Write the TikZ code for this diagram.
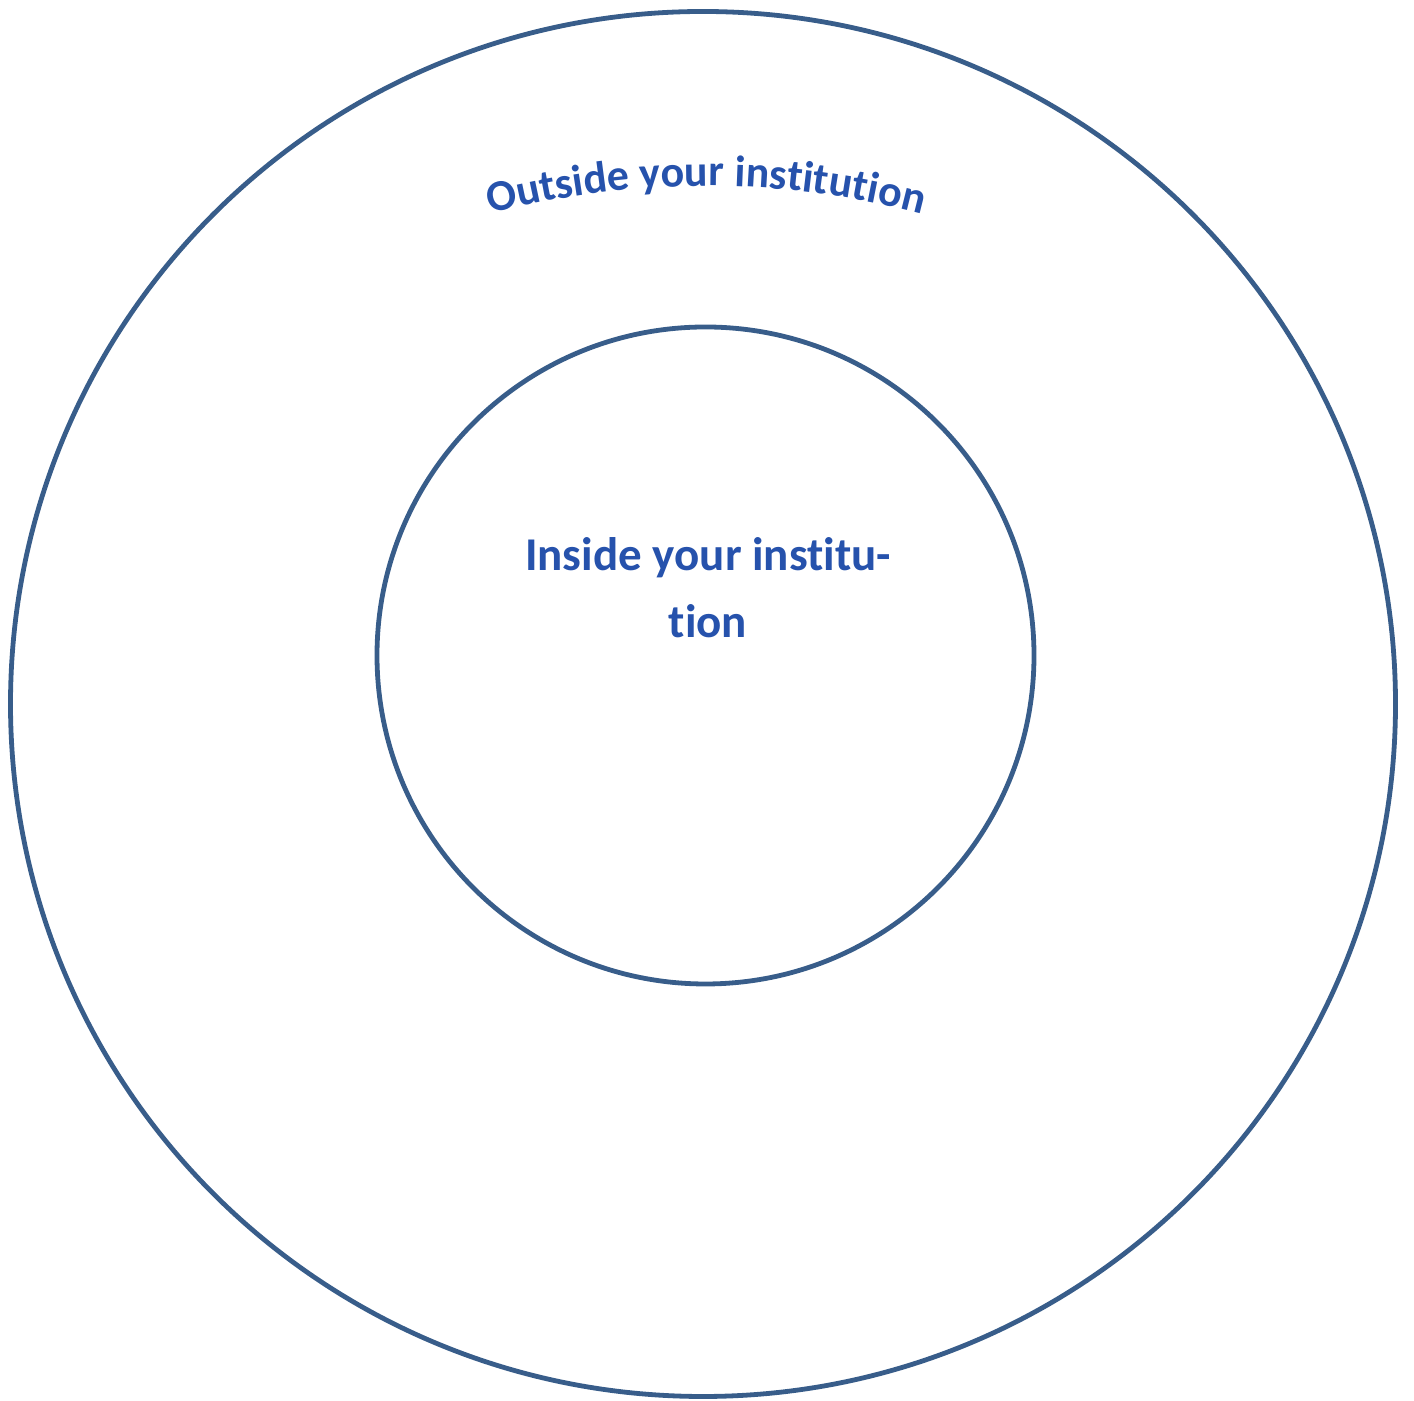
\documentclass[tikz,border=0pt]{standalone}
\usepackage{fontspec}
\setmainfont{Carlito}[Ligatures=NoCommon]
\usepackage{tikz}
\usetikzlibrary{positioning, decorations.text}
\definecolor{ringblue}{RGB}{56,93,138}
\definecolor{labelblue}{RGB}{38,82,172}

\begin{document}
\begin{tikzpicture}[
    x=0.5pt, y=0.5pt,
    ring/.style={circle, draw=ringblue, line width=2.4pt, inner sep=0pt},
    label/.style={align=center, text=labelblue, font=\bfseries\fontsize{23.5}{33.5}\selectfont}
]
\useasboundingbox (0,0) rectangle (1414,1401);

\node[ring, minimum size=692.5pt] (outer) at (703,697) {};
\node[ring, minimum size=328.5pt] (inner) at (705.5,745.5) {};

\coordinate (arcctr) at (706,369);
\path[decorate, decoration={text along path, text align=center, text color=labelblue,
    text={|\bfseries\fontsize{22}{26}\selectfont|Outside your institution}}]
    ([shift={(107:846)}]arcctr) arc (107:73:846);

\node[label] (insidetxt) at (708,813) {Inside your institu-\\tion};
\end{tikzpicture}
\end{document}
